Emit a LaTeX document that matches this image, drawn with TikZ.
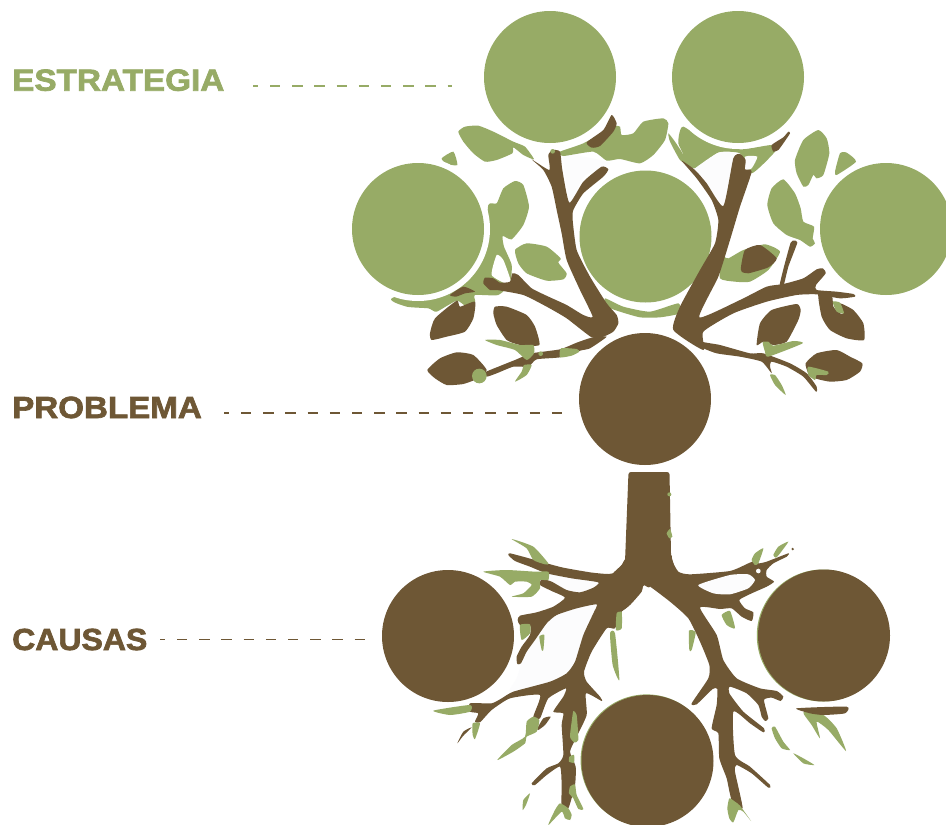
\documentclass[tikz,border=0pt]{standalone}
\usepackage{fontspec}
\setmainfont{Liberation Sans}
\newfontfamily\labelfont[FakeBold=2.2,FakeStretch=1.06]{Liberation Sans Bold}
\definecolor{leafgreen}{HTML}{97AB66}
\definecolor{barkbrown}{HTML}{6E5735}
\definecolor{pale}{HTML}{FCFCFD}
\newcommand\blob[2]{\fill[#1] plot[smooth cycle,tension=.33] coordinates {#2};}
\tikzset{
 zoomA/.style={xshift=350pt,yshift=-110pt,x=.33333pt,y=-.33333pt},
 zoomB/.style={xshift=640pt,yshift=-110pt,x=.33333pt,y=-.33333pt},
 zoomC/.style={xshift=420pt,yshift=-465pt,x=.33333pt,y=-.33333pt},
 zoomD/.style={xshift=620pt,yshift=-465pt,x=.33333pt,y=-.33333pt},
 disc/.style={circle,inner sep=0pt,minimum size=132pt,draw=none},
 greendisc/.style={disc,fill=leafgreen},
 browndisc/.style={disc,fill=barkbrown},
 label/.style={anchor=base west,inner sep=0pt,font=\labelfont\fontsize{30.5}{32}\selectfont},
 guide/.style={line width=1.6pt,dash pattern=on 10.4pt off 11.8pt,dash phase=5.2pt},
}
\begin{document}
\begin{tikzpicture}[x=1pt,y=-1pt]
\clip (0,0) rectangle (946,825);
\fill[white] (0,0) rectangle (946,825);
% ---------- crown, green behind ----------
\begin{scope}[zoomA]
\blob{pale}{(640,130)(700,140)(780,160)(700,200)(660,280)}
\blob{leafgreen}{(325,65)(345,50)(385,47)(430,65)(490,95)(525,110)(552,148)(520,135)(490,112)(487,130)(440,150)(405,155)(370,130)(340,95)}
\blob{leafgreen}{(275,145)(310,125)(322,165)(290,162)}
\blob{leafgreen}{(415,285)(440,280)(460,235)(495,213)(520,225)(537,290)(520,345)(485,388)(458,378)(462,410)(485,465)(480,520)(445,555)(375,555)(375,575)(350,590)(320,572)(260,605)(235,595)(170,590)(125,565)(300,500)(400,400)}
\blob{white}{(440,435)(460,450)(482,512)(470,522)(425,495)}
\blob{leafgreen}{(495,420)(530,400)(590,410)(632,445)(625,458)(650,490)(640,508)(590,512)(530,490)(505,460)}
\blob{leafgreen}{(810,50)(815,75)(850,70)(880,35)(940,25)(955,40)(945,90)(910,135)(870,160)(810,147)(770,152)(730,125)(640,138)(630,125)(700,100)(790,50)}
\blob{leafgreen}{(765,565)(820,590)(900,605)(985,580)(990,610)(930,622)(870,622)(810,605)(770,590)}
\end{scope}
\begin{scope}[zoomB]
\blob{leafgreen}{(118,70)(130,50)(200,90)(300,118)(395,105)(405,125)(335,190)(300,130)(235,128)(165,175)(120,150)(130,135)(115,100)}
\blob{leafgreen}{(85,70)(105,95)(130,135)(120,150)(90,95)}
\blob{pale}{(165,175)(235,128)(285,135)(255,285)(170,180)}
\blob{pale}{(315,140)(352,140)(335,175)(315,178)}
\blob{leafgreen}{(465,150)(490,90)(535,60)(560,85)(568,130)(550,195)(530,205)(520,195)(505,225)(490,230)(470,190)}
\blob{leafgreen}{(600,130)(620,128)(648,155)(590,195)(585,185)}
\blob{leafgreen}{(382,285)(395,235)(430,208)(465,250)(482,295)(490,335)(522,350)(518,385)(525,400)(510,410)(480,390)(440,375)(400,340)}
\blob{leafgreen}{(245,440)(265,445)(310,420)(375,403)(420,425)(385,480)(330,515)(285,515)(240,505)}
\end{scope}
% ---------- white halos and green discs ----------
\fill[white] (550,77) circle (72) (738,77) circle (72) (418,229) circle (72) (645.5,236.5) circle (72);
\node[greendisc] (stratA) at (550,77) {};
\node[greendisc] (stratB) at (738,77) {};
\node[greendisc] (stratC) at (418,229) {};
\node[greendisc] (stratD) at (645.5,236.5) {};
\node[greendisc] (stratE) at (886,229) {};
% ---------- crown, brown ----------
\begin{scope}[zoomA]
\blob{barkbrown}{(240,670)(255,625)(320,572)(330,590)(375,575)(370,625)(345,665)(290,680)(245,690)}
\blob{barkbrown}{(300,555)(340,530)(375,545)(345,550)(318,560)}
\blob{barkbrown}{(435,590)(470,590)(530,615)(555,650)(568,705)(510,705)(470,690)(440,645)(430,610)}
\blob{barkbrown}{(232,780)(270,745)(320,727)(370,735)(410,780)(385,805)(340,822)(290,825)(255,805)}
\blob{barkbrown}{(405,787)(450,768)(495,750)(545,730)(630,718)(680,698)(725,683)(770,680)(720,715)(690,722)(630,742)(560,748)(535,770)(490,770)(440,790)(410,800)}
\blob{barkbrown}{(710,97)(760,60)(785,15)(800,40)(790,65)(750,108)(725,113)}
\blob{barkbrown}{(545,148)(598,180)(595,135)(608,120)(630,125)(637,180)(658,278)(700,215)(755,170)(775,178)(760,200)(700,250)(670,300)(668,330)(680,420)(720,500)(770,580)(800,615)(805,640)(790,665)(760,680)(725,682)(650,625)(590,590)(520,555)(440,540)(420,540)(400,520)(405,503)(430,505)(450,518)(480,515)(487,490)(505,495)(545,535)(600,562)(650,585)(700,615)(728,620)(690,540)(650,450)(635,370)(620,300)(605,230)(580,180)}
\blob{leafgreen}{(405,690)(450,690)(510,705)(550,705)(552,730)(530,750)(495,720)(440,705)}
\blob{leafgreen}{(495,815)(515,785)(522,765)(545,765)(530,795)}
\blob{leafgreen}{(633,715)(680,717)(688,725)(665,737)(630,742)}
\fill[leafgreen] (572,731) circle (7) (388,798) circle (22) (608,124) circle (7);
\end{scope}
\begin{scope}[zoomB]
\blob{barkbrown}{(315,420)(360,405)(410,445)(385,472)(325,490)(305,485)(303,470)}
\blob{barkbrown}{(395,105)(430,82)(445,65)(450,70)(430,100)(415,120)(400,125)}
\blob{barkbrown}{(125,152)(165,180)(200,220)(250,288)(280,145)(300,132)(317,150)(315,178)(335,185)(300,290)(270,390)(235,500)(178,622)(300,570)(380,530)(430,522)(490,505)(530,478)(548,475)(557,490)(528,525)(530,540)(590,545)(640,552)(645,560)(600,565)(530,553)(470,555)(380,575)(280,610)(190,665)(190,720)(100,660)(120,590)(180,480)(225,400)(235,330)(215,270)(170,205)}
\blob{barkbrown}{(452,398)(462,392)(472,398)(445,470)(430,530)(418,530)(432,470)}
\blob{barkbrown}{(185,695)(240,705)(330,730)(370,730)(450,760)(500,790)(530,830)(528,845)(490,800)(440,770)(395,755)(390,770)(395,790)(365,755)(300,740)(230,730)(180,710)(130,670)}
\blob{barkbrown}{(535,550)(575,555)(580,590)(600,610)(610,610)(600,580)(640,600)(670,640)(672,690)(620,685)(570,660)(545,620)}
\blob{leafgreen}{(578,575)(600,578)(612,610)(590,605)}
\blob{barkbrown}{(350,705)(360,640)(395,600)(470,582)(482,600)(475,630)(440,695)(400,705)(370,695)}
\blob{leafgreen}{(368,697)(385,695)(400,707)(460,693)(488,700)(385,740)(375,725)}
\blob{barkbrown}{(497,760)(530,730)(590,720)(630,740)(667,760)(660,785)(620,810)(570,815)(525,805)(505,790)}
\blob{leafgreen}{(505,770)(565,785)(560,795)(530,795)(525,810)(505,795)}
\blob{leafgreen}{(390,795)(405,795)(425,825)(437,855)(405,825)}
\end{scope}
% ---------- thin green edges and brown discs ----------
\fill[leafgreen] (822.8,635.5) circle (66) (646.6,760.4) circle (66);
\node[browndisc] (probA) at (645,399) {};
\node[browndisc] (causeA) at (448,636) {};
\node[browndisc] (causeB) at (824,635.5) {};
\node[browndisc] (causeC) at (647.5,761) {};
% ---------- roots ----------
\begin{scope}[zoomC]
\blob{pale}{(385,325)(535,352)(480,382)(435,398)(395,360)}
\blob{pale}{(530,418)(410,450)(330,530)(290,640)(270,680)(390,650)(460,600)}
\blob{barkbrown}{(690,270)(622,270)(615,290)(600,318)(565,327)(510,322)(430,308)(380,295)(320,278)(270,265)(265,270)(285,288)(330,305)(380,325)(455,340)(535,352)(520,368)(480,382)(440,375)(395,350)(365,342)(360,360)(395,378)(435,398)(400,425)(350,442)(300,452)(293,465)(300,480)(330,480)(330,510)(305,545)(290,575)(292,597)(303,595)(320,560)(345,525)(380,475)(410,450)(470,430)(530,418)(520,445)(490,510)(465,590)(440,625)(390,650)(280,680)(245,700)(215,715)(150,715)(150,740)(175,745)(165,770)(180,772)(215,735)(270,700)(360,690)(340,755)(360,760)(385,700)(438,670)(430,695)(400,740)(430,745)(425,780)(430,870)(415,895)(380,910)(335,955)(345,960)(380,930)(420,905)(425,960)(425,1020)(445,1030)(465,960)(467,905)(450,860)(470,815)(500,750)(498,685)(545,708)(540,695)(500,650)(492,620)(515,560)(560,490)(585,490)(605,440)(660,385)(670,360)(690,365)}
\blob{barkbrown}{(352,790)(370,760)(392,755)(375,780)(355,795)}
\blob{barkbrown}{(112,835)(130,800)(155,787)(130,812)}
\blob{leafgreen}{(275,222)(340,245)(385,295)(375,298)(340,285)(320,250)}
\blob{leafgreen}{(190,320)(260,315)(345,320)(385,320)(385,345)(360,345)(360,370)(335,395)(275,395)(310,385)(335,360)(320,350)(285,350)(270,360)(240,335)}
\blob{leafgreen}{(300,480)(330,478)(330,505)(305,525)}
\blob{leafgreen}{(358,515)(373,510)(370,555)(365,555)}
\blob{leafgreen}{(590,445)(605,440)(605,490)(588,495)}
\blob{leafgreen}{(570,505)(585,505)(598,645)(578,600)}
\blob{leafgreen}{(40,737)(150,720)(150,740)(90,750)}
\blob{leafgreen}{(158,775)(180,775)(165,822)(158,810)}
\blob{leafgreen}{(320,770)(340,755)(358,765)(350,800)(320,815)(315,835)(280,860)(232,885)(275,840)(315,815)}
\blob{leafgreen}{(460,738)(470,750)(475,825)(462,832)(450,815)(455,770)}
\blob{leafgreen}{(448,875)(462,870)(462,893)(447,890)}
\blob{leafgreen}{(450,965)(465,958)(470,990)(490,1032)(475,1032)(460,1000)(447,985)}
\blob{leafgreen}{(420,1015)(445,1030)(455,1050)(450,1065)(435,1060)(425,1040)(385,1080)(405,1035)}
\blob{leafgreen}{(308,1035)(310,1005)(330,985)(318,1020)}
\end{scope}
\begin{scope}[zoomD]
\blob{barkbrown}{(30,270)(150,270)(155,285)(175,320)(210,328)(330,318)(385,295)(410,285)(415,295)(440,290)(505,265)(500,275)(460,295)(440,315)(440,335)(462,350)(440,365)(395,385)(358,405)(375,430)(400,442)(395,468)(365,455)(335,430)(300,432)(240,428)(290,510)(310,585)(350,640)(420,670)(470,678)(490,695)(482,708)(455,698)(432,705)(445,760)(435,768)(425,755)(415,720)(380,685)(330,665)(328,685)(370,740)(432,790)(430,802)(390,775)(340,740)(345,870)(390,905)(450,960)(445,968)(395,925)(350,900)(345,920)(368,1030)(335,1005)(320,940)(298,880)(295,805)(275,790)(290,720)(292,672)(278,672)(230,718)(215,715)(265,640)(268,600)(240,530)(205,460)(150,410)(75,355)(65,380)(30,420)(0,440)(-50,420)(0,310)}
\blob{pale}{(235,360)(330,330)(385,328)(405,345)(385,370)(330,388)(280,385)}
\fill[white] (415,318) circle (7);
\fill[barkbrown] (518,252) circle (4);
\blob{leafgreen}{(395,285)(405,265)(430,250)(415,295)(405,300)}
\blob{leafgreen}{(460,270)(475,245)(505,230)(480,265)(468,278)}
\blob{leafgreen}{(305,450)(330,438)(345,490)(320,480)}
\blob{leafgreen}{(207,497)(227,502)(215,555)(208,555)}
\blob{leafgreen}{(322,1030)(328,1000)(345,1010)(360,1022)(393,1068)(370,1040)(355,1035)(340,1072)(328,1060)}
\blob{leafgreen}{(550,742)(610,750)(650,790)(678,858)(625,795)(590,770)(600,820)(575,780)}
\blob{barkbrown}{(530,730)(680,725)(675,745)(610,750)(570,745)}
\blob{leafgreen}{(455,790)(465,785)(490,830)(510,855)(485,850)(465,820)}
\blob{leafgreen}{(520,865)(550,880)(583,900)(550,895)}
\end{scope}
% trunk, solid over the joins of the two root halves
\fill[barkbrown,rounded corners=2.5pt] (625,562) -- (628.5,472) -- (669.5,472) -- (671,555) -- (676,572) -- (650,578) -- (640,590) -- (620,590) -- (612,574) -- cycle;
\begin{scope}[zoomD]
\fill[leafgreen] (148,88) circle (6);
\blob{leafgreen}{(140,205)(150,192)(157,215)(148,220)}
\end{scope}
% ---------- labels and guide lines ----------
\node[label,text=leafgreen] (lblStrategy) at (12,90.7) {\scalebox{1.03}[1]{ESTRATEGIA}};
\node[label,text=barkbrown] (lblProblem) at (12,418) {\scalebox{1.025}[1]{PROBLEMA}};
\node[label,text=barkbrown] (lblCauses) at (12,650) {\scalebox{.99}[1]{CAUSAS}};
\coordinate (s1) at (253,86); \coordinate (s2) at (452,86);
\coordinate (p1) at (224,413); \coordinate (p2) at (565,413);
\coordinate (c1) at (160,639.5); \coordinate (c2) at (365,639.5);
\draw[guide,leafgreen] (s1) -- (s2);
\draw[guide,barkbrown] (p1) -- (p2);
\draw[guide,barkbrown] (c1) -- (c2);
\end{tikzpicture}
\end{document}
